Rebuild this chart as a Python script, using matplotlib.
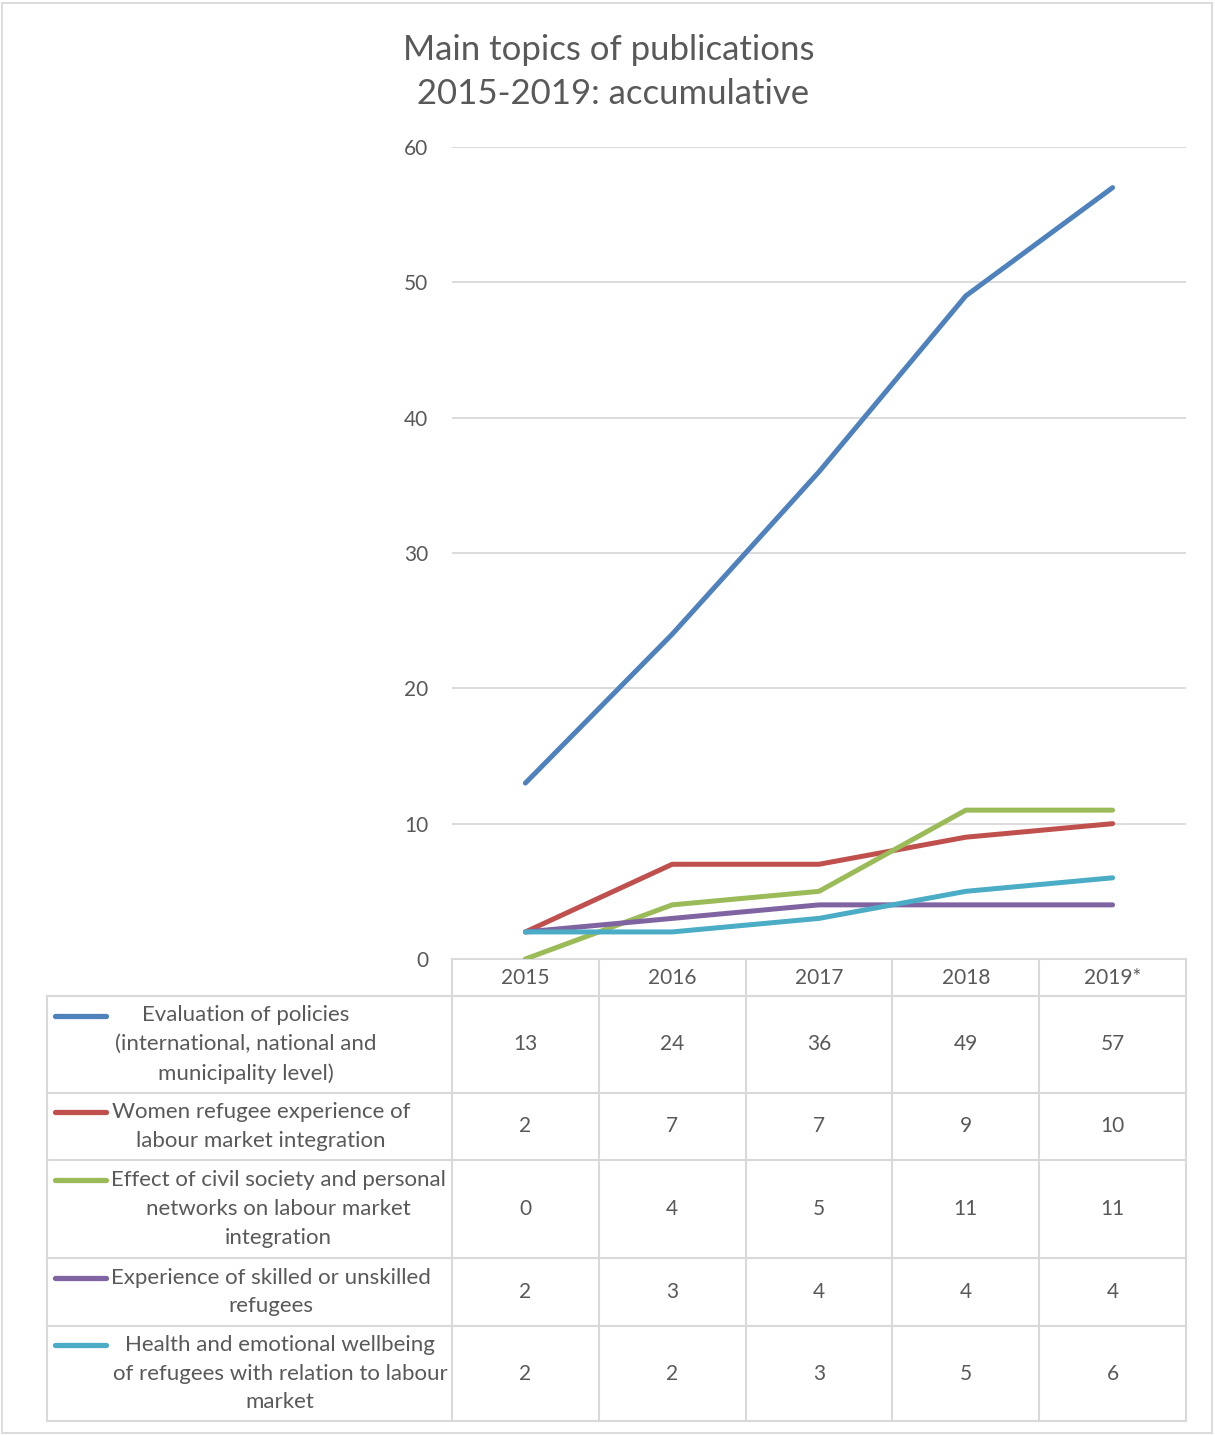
import matplotlib.pyplot as plt
from matplotlib.patches import Rectangle

years = ['2015', '2016', '2017', '2018', '2019*']
topics = [
    'Evaluation of policies\n(international, national and\nmunicipality level)',
    'Women refugee experience of\nlabour market integration',
    'Effect of civil society and personal\nnetworks on labour market\nintegration',
    'Experience of skilled or unskilled\nrefugees',
    'Health and emotional wellbeing\nof refugees with relation to labour\nmarket',
]
policies = [13, 24, 36, 49, 57]
women = [2, 7, 7, 9, 10]
civil = [0, 4, 5, 11, 11]
skilled = [2, 3, 4, 4, 4]
health = [2, 2, 3, 5, 6]
series = [policies, women, civil, skilled, health]
colors = ['#4F81BD', '#C0504D', '#9BBB59', '#8064A2', '#4BACC6']

W, H = 1215, 1435
txt = '#595959'
grid = '#D9D9D9'
plt.rcParams['font.family'] = ['Lato', 'DejaVu Sans']

fig = plt.figure(figsize=(W / 100, H / 100), dpi=100)

# pixel layout of the chart and table
x_left, x_right = 452, 1186
y_top, y_zero = 147, 959
tab_left = 47
row_edges = [996, 1093, 1160, 1258, 1326, 1421]
label_x = [246, 261, 278, 271, 280]

ax = fig.add_axes([x_left / W, 1 - y_zero / H, (x_right - x_left) / W, (y_zero - y_top) / H])
for vals, c in zip(series, colors):
    ax.plot(range(len(years)), vals, color=c, lw=3.6, solid_capstyle='round', zorder=3)
ax.set_xlim(-0.5, len(years) - 0.5)
ax.set_ylim(0, 60)
ax.set_yticks(range(0, 61, 10))
ax.yaxis.grid(True, color=grid, lw=1.3)
ax.set_axisbelow(True)
for s in ax.spines.values():
    s.set_visible(False)
ax.set_xticks([])
ax.tick_params(axis='y', length=0, pad=17, labelsize=15, labelcolor=txt)

# overlay in pixel coordinates for the data table
ov = fig.add_axes([0, 0, 1, 1], zorder=-1)
ov.set_xlim(0, W)
ov.set_ylim(H, 0)
ov.axis('off')
ov.add_patch(Rectangle((2, 3), W - 5, H - 5, fill=False, ec=grid, lw=1.3))

col_w = (x_right - x_left) / len(years)
col_edges = [x_left + i * col_w for i in range(len(years) + 1)]
ov.plot([x_left, x_right], [y_zero, y_zero], color=grid, lw=1.5)
for xe in col_edges:
    ov.plot([xe, xe], [y_zero, row_edges[-1]], color=grid, lw=1.5)
for ye in row_edges:
    ov.plot([tab_left, x_right], [ye, ye], color=grid, lw=1.5)
ov.plot([tab_left, tab_left], [row_edges[0], row_edges[-1]], color=grid, lw=1.5)

for i, yr in enumerate(years):
    ov.text(col_edges[i] + col_w / 2, (y_zero + row_edges[0]) / 2, yr,
            ha='center', va='center', fontsize=15, color=txt)

for r, (name, vals, c) in enumerate(zip(topics, series, colors)):
    top, bot = row_edges[r], row_edges[r + 1]
    mid = (top + bot) / 2
    ov.text(label_x[r], mid, name, ha='center', va='center', multialignment='center',
            fontsize=16, color=txt, linespacing=1.56)
    nlines = name.count('\n') + 1
    key_y = mid - (nlines - 1) * 29 / 2
    ov.plot([55, 106], [key_y, key_y], color=c, lw=3.8, solid_capstyle='round')
    for i, v in enumerate(vals):
        ov.text(col_edges[i] + col_w / 2, mid, str(v), ha='center', va='center',
                fontsize=15, color=txt)

fig.text(609 / W, 1 - 72 / H, 'Main topics of publications\n 2015-2019: accumulative',
         ha='center', va='center', fontsize=25, color=txt, linespacing=1.5)

fig.savefig('out.png', dpi=100)
